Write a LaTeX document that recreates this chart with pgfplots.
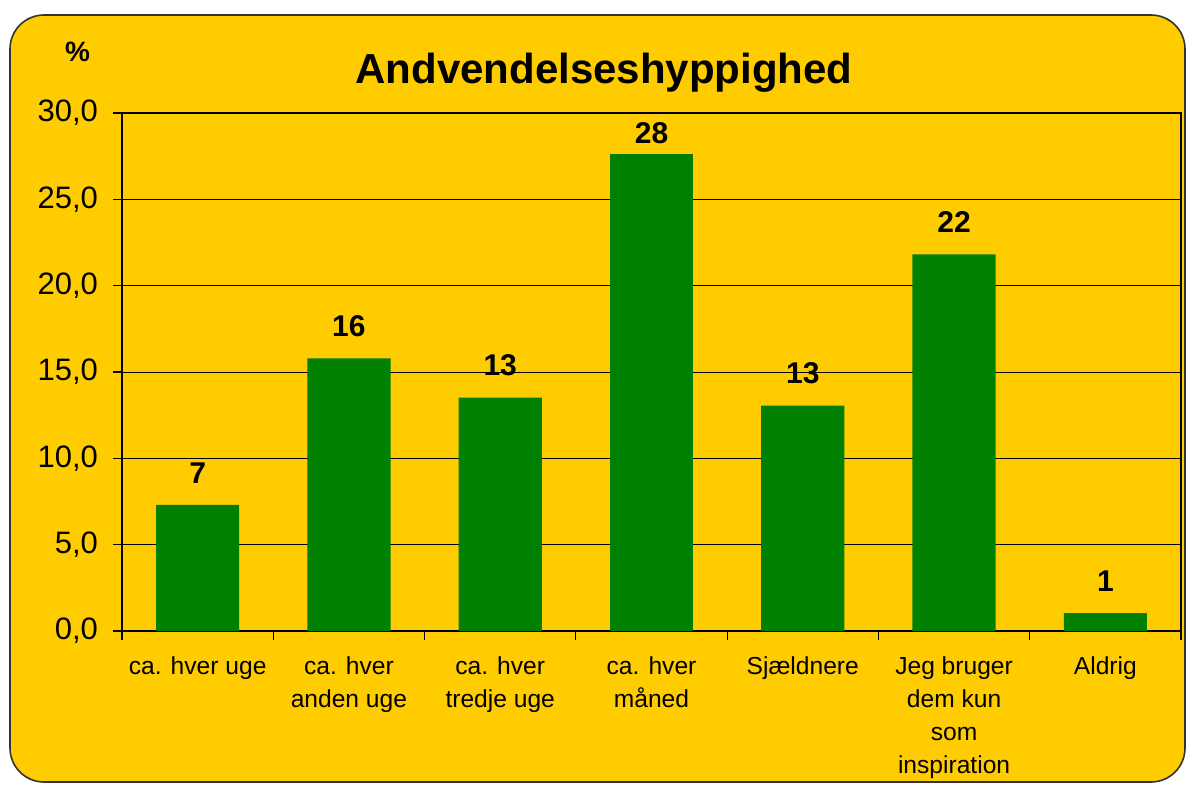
\documentclass[border=0pt]{standalone}
\usepackage{fontspec}
\setmainfont{Liberation Sans}
\usepackage{pgfplots}
\pgfplotsset{compat=1.18}
\definecolor{bgyellow}{HTML}{FFCC00}
\definecolor{bargreen}{HTML}{008000}
\tikzset{vlabel/.style={font=\bfseries\fontsize{15}{18}\selectfont, anchor=south, inner sep=0pt, black}}

\begin{document}
\begin{tikzpicture}
\clip (0,0) rectangle (593pt,392pt);
\fill[white] (0,0) rectangle (593pt,392pt);
% rounded chart area
\draw[fill=bgyellow, draw=black!80, line width=0.8pt, rounded corners=17pt] (5pt,1pt) rectangle (592.5pt,384.5pt);

\begin{axis}[
    at={(61pt,76.5pt)}, anchor=south west,
    width=529.5pt, height=259pt, scale only axis,
    xmin=-0.5, xmax=6.5,
    ymin=0, ymax=30,
    ytick={0,5,10,15,20,25,30},
    xtick={-0.5,0.5,1.5,2.5,3.5,4.5,5.5,6.5},
    xticklabels={},
    xtick pos=bottom, ytick pos=left,
    tick align=outside,
    major tick length=4.5pt,
    tick style={black, line width=0.6pt},
    ymajorgrids,
    grid style={black, line width=0.5pt},
    axis line style={black, line width=1pt},
    y tick label style={font=\fontsize{15.5}{18}\selectfont, xshift=-4pt,
        /pgf/number format/.cd, fixed, fixed zerofill, precision=1, use comma, assume math mode=true},
    extra x ticks={0,1,2,3,4,5,6},
    extra x tick labels={ca. hver uge, {ca. hver\\anden uge}, {ca. hver\\tredje uge}, {ca. hver\\måned}, Sjældnere, {Jeg bruger\\dem kun\\som\\inspiration}, Aldrig},
    extra x tick style={major tick length=0pt,
        tick label style={align=center, font=\fontsize{12.3}{16.5}\selectfont, anchor=north, inner sep=0pt, yshift=-12.5pt}},
    bars/.style={ybar, bar shift=0pt, fill=bargreen, draw=none, bar width=0.55,
        nodes near coords, point meta=explicit symbolic},
]
\addplot[bars, every node near coord/.append style={vlabel, yshift=10.5pt}]
    coordinates {
    (0,7.31)[7] (1,15.79)[16] (2,13.52)[13] (4,13.06)[13] (5,21.82)[22] (6,1.04)[1]
};
% label of the tallest bar sits closer (kept inside the plot area)
\addplot[bars, every node near coord/.append style={vlabel, yshift=5pt}]
    coordinates {
    (3,27.62)[28]
};
\end{axis}

\node[font=\bfseries\fontsize{21}{25}\selectfont, anchor=base] at (302pt,350.5pt) {Andvendelseshyppighed};
\node[font=\bfseries\fontsize{14}{17}\selectfont, anchor=base] at (38.75pt,361.5pt) {\%};
\end{tikzpicture}
\end{document}
